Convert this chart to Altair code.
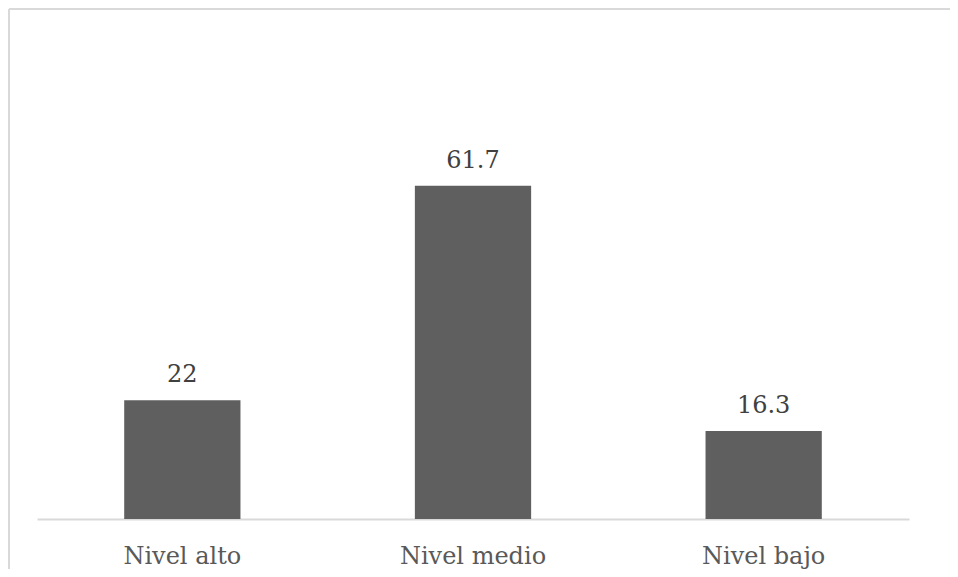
import altair as alt
import pandas as pd

categories = ["Nivel alto", "Nivel medio", "Nivel bajo"]
values = [22, 61.7, 16.3]
labels = ["22", "61.7", "16.3"]

df = pd.DataFrame({"cat": categories, "val": values, "lab": labels})
frame_df = pd.DataFrame({"k": [0]})

FONT = "DejaVu Serif"

x_enc = alt.X(
    "cat:N",
    sort=categories,
    scale=alt.Scale(paddingInner=0.6, paddingOuter=0.3),
    axis=alt.Axis(
        title=None,
        labelAngle=0,
        ticks=False,
        domainColor="#d9d9d9",
        domainWidth=2,
        labelFont=FONT,
        labelFontSize=24,
        labelColor="#595959",
        labelBaseline="alphabetic",
        labelPadding=44,
        grid=False,
    ),
)
y_enc = alt.Y("val:Q", scale=alt.Scale(domain=[0, 70]), axis=None)

bars = alt.Chart(df).mark_bar(color="#5f5f5f").encode(x=x_enc, y=y_enc)

text = alt.Chart(df).mark_text(
    font=FONT, fontSize=24, color="#404040", baseline="alphabetic", dy=-18
).encode(x=x_enc, y=y_enc, text="lab:N")

frame_top = alt.Chart(frame_df).mark_rule(color="#d9d9d9", strokeWidth=2).encode(
    x=alt.value(-28), x2=alt.value(2000), y=alt.value(-132)
)
frame_left = alt.Chart(frame_df).mark_rule(color="#d9d9d9", strokeWidth=2).encode(
    x=alt.value(-28), y=alt.value(-132), y2=alt.value(2000)
)

chart = (
    alt.layer(frame_top, frame_left, bars, text)
    .properties(
        width=872,
        height=378,
        autosize=alt.AutoSizeParams(type="none"),
        padding={"left": 29, "top": 133, "right": 41, "bottom": 50},
    )
    .configure_view(stroke=None)
)

chart.save("out.html", embed_options={"renderer": "svg", "actions": False})
